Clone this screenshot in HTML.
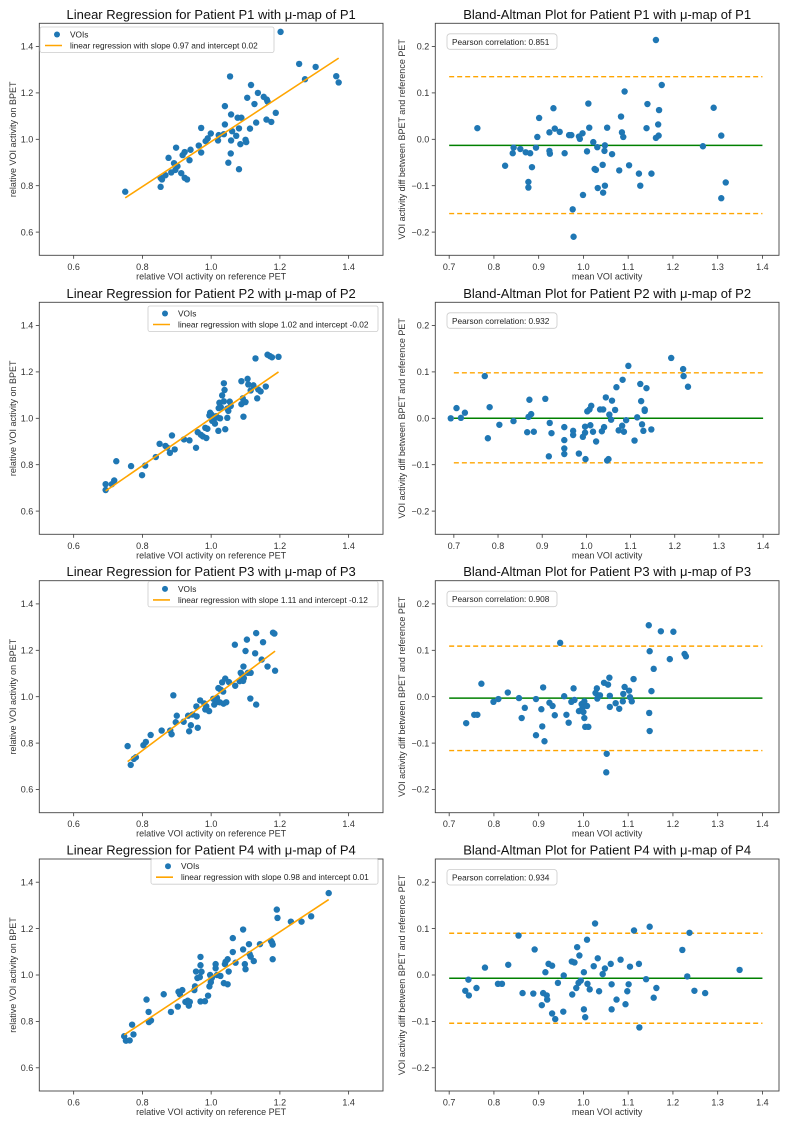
<!DOCTYPE html>
<html><head><meta charset="utf-8"><style>
html,body{margin:0;padding:0;background:#fff;}
svg{display:block;font-family:"Liberation Sans","DejaVu Sans",sans-serif;}
</style></head><body>
<svg id="fig" width="793" height="1126" viewBox="0 0 793 1126" xmlns="http://www.w3.org/2000/svg"></svg>
<script>
// ---------- data ----------
const lr1x=[0.75,0.853,0.853,0.857,0.867,0.876,0.884,0.892,0.896,0.902,0.898,0.913,0.917,0.923,0.923,0.93,0.937,0.94,0.964,0.971,0.971,0.984,0.99,0.999,1.02,1.022,1.037,1.04,1.04,1.057,1.05,1.055,1.058,1.058,1.061,1.073,1.077,1.081,1.081,1.085,1.088,1.1,1.102,1.105,1.113,1.116,1.126,1.131,1.136,1.153,1.162,1.161,1.164,1.175,1.188,1.202,1.256,1.273,1.304,1.364,1.371];
const lr1y=[0.774,0.795,0.834,0.827,0.845,0.92,0.857,0.897,0.868,0.884,0.964,0.854,0.932,0.945,0.834,0.827,0.91,0.955,0.973,0.943,1.049,0.992,1.004,1.025,0.995,1.018,1.022,1.064,1.143,0.939,0.899,1.271,1.107,0.995,1.035,1.015,1.093,1.047,0.871,0.979,1.093,0.998,0.988,1.179,1.046,1.234,1.152,1.072,1.2,1.183,1.171,1.085,1.163,1.075,1.114,1.463,1.325,1.259,1.312,1.272,1.245];
const ba1x=[0.763,0.825,0.842,0.844,0.859,0.871,0.877,0.877,0.881,0.885,0.894,0.897,0.901,0.924,0.924,0.925,0.933,0.936,0.947,0.958,0.968,0.973,0.976,0.978,0.99,0.992,0.998,0.999,1.008,1.011,1.013,1.022,1.025,1.028,1.031,1.032,1.043,1.044,1.047,1.048,1.048,1.053,1.064,1.08,1.084,1.086,1.089,1.092,1.102,1.124,1.127,1.141,1.143,1.152,1.162,1.162,1.167,1.169,1.168,1.175,1.267,1.291,1.308,1.308,1.318];
const ba1y=[0.024,-0.057,-0.03,-0.018,-0.021,-0.028,-0.092,-0.104,-0.03,-0.06,-0.018,0.005,0.046,0.015,-0.025,-0.031,0.067,0.023,0.016,-0.03,0.009,0.009,-0.151,-0.21,0.006,0.001,0.013,-0.12,-0.026,0.077,0.025,-0.006,-0.064,-0.066,-0.017,-0.105,-0.055,-0.115,-0.025,-0.013,-0.1,0.025,-0.032,-0.067,0.049,0.015,0.005,0.103,-0.056,-0.074,-0.1,0.024,0.076,-0.074,0.214,0.003,0.032,0.063,0.008,0.117,-0.015,0.068,0.008,-0.127,-0.093];
const lr2x=[0.693,0.693,0.711,0.718,0.724,0.767,0.799,0.808,0.839,0.85,0.867,0.872,0.88,0.886,0.894,0.921,0.937,0.956,0.961,0.97,0.976,0.983,0.986,0.989,0.995,0.997,1.001,1.003,1.007,1.011,1.015,1.018,1.021,1.022,1.024,1.026,1.028,1.032,1.037,1.037,1.039,1.041,1.047,1.047,1.05,1.054,1.057,1.088,1.088,1.092,1.094,1.095,1.1,1.106,1.108,1.115,1.123,1.129,1.134,1.137,1.144,1.159,1.164,1.171,1.177,1.196];
const lr2y=[0.691,0.716,0.716,0.732,0.815,0.794,0.755,0.796,0.833,0.89,0.881,0.874,0.851,0.926,0.866,0.909,0.905,0.873,0.94,0.929,0.922,0.959,0.915,0.955,1.012,1.024,1.016,0.989,0.991,0.977,1.009,1.004,0.946,1.044,1.067,1.0,1.048,1.099,1.151,1.073,1.122,0.953,1.042,1.002,1.032,1.072,1.053,1.16,1.061,1.086,1.007,1.073,1.07,1.17,1.146,1.12,1.142,1.258,1.086,1.124,1.116,1.137,1.274,1.268,1.263,1.265];
const ba2x=[0.693,0.706,0.716,0.725,0.77,0.777,0.781,0.803,0.835,0.866,0.869,0.871,0.875,0.881,0.907,0.915,0.917,0.921,0.95,0.95,0.95,0.95,0.97,0.97,0.983,0.992,0.997,0.997,0.998,1.002,1.007,1.009,1.011,1.015,1.022,1.031,1.035,1.038,1.04,1.044,1.047,1.05,1.052,1.056,1.058,1.065,1.068,1.073,1.081,1.082,1.085,1.09,1.095,1.109,1.115,1.122,1.124,1.126,1.129,1.132,1.132,1.136,1.147,1.192,1.219,1.22,1.23];
const ba2y=[0,0.022,0.001,0.012,0.091,-0.043,0.024,-0.014,-0.006,-0.03,0.003,0.04,0.009,-0.029,0.042,-0.082,-0.01,-0.032,-0.019,-0.047,-0.065,-0.077,-0.027,-0.036,-0.076,-0.04,-0.031,-0.018,-0.088,0.015,0.019,-0.015,0.027,-0.029,-0.05,0.019,-0.028,0.019,-0.019,0.045,-0.091,-0.088,0.008,-0.003,0.038,0.018,0.067,-0.026,-0.016,0.083,-0.029,-0.004,0.113,-0.048,0.002,0.074,0.037,-0.013,-0.027,0.016,0.019,0.065,-0.024,0.13,0.106,0.091,0.068];
const lr3x=[0.757,0.766,0.775,0.781,0.803,0.81,0.824,0.856,0.881,0.885,0.89,0.897,0.9,0.92,0.933,0.936,0.941,0.946,0.957,0.958,0.961,0.968,0.98,0.983,0.986,0.994,1.006,1.009,1.014,1.017,1.019,1.021,1.025,1.028,1.032,1.035,1.036,1.041,1.044,1.052,1.069,1.07,1.083,1.086,1.091,1.093,1.094,1.095,1.1,1.104,1.107,1.115,1.114,1.128,1.131,1.131,1.147,1.151,1.164,1.18,1.184,1.186];
const lr3y=[0.787,0.706,0.732,0.739,0.791,0.805,0.835,0.854,0.854,0.838,1.006,0.89,0.918,0.892,0.918,0.851,0.877,0.923,0.958,0.915,0.866,0.984,0.971,0.945,0.958,0.938,0.991,0.966,0.979,0.995,0.978,1.037,0.976,1.03,1.062,1.022,0.97,1.078,0.976,1.063,1.224,1.047,1.067,1.103,1.093,1.068,1.13,1.08,1.197,1.246,1.103,1.103,0.992,1.187,1.274,0.966,1.16,1.235,1.13,1.276,1.272,1.112];
const ba3x=[0.738,0.756,0.763,0.772,0.799,0.81,0.831,0.856,0.862,0.869,0.894,0.894,0.906,0.908,0.91,0.913,0.924,0.931,0.936,0.948,0.957,0.962,0.967,0.973,0.978,0.98,0.99,0.996,0.998,1.0,1.002,1.002,1.004,1.008,1.011,1.027,1.03,1.031,1.037,1.046,1.052,1.051,1.055,1.058,1.059,1.059,1.072,1.08,1.088,1.089,1.092,1.102,1.104,1.108,1.112,1.146,1.147,1.148,1.148,1.152,1.157,1.173,1.193,1.201,1.226,1.229];
const ba3y=[-0.057,-0.039,-0.039,0.028,-0.011,-0.005,0.009,-0.003,-0.046,-0.024,-0.083,-0.005,-0.027,-0.064,0.02,-0.096,-0.013,-0.02,-0.04,0.116,0.001,-0.039,-0.056,-0.011,0.018,-0.007,-0.031,-0.016,-0.023,-0.033,-0.046,-0.01,-0.065,-0.02,-0.065,0.008,0.018,-0.004,0.003,0.03,-0.123,-0.163,0.026,0.041,-0.022,0.002,-0.014,-0.026,-0.01,0.006,0.021,0.013,-0.001,-0.01,0.038,0.154,-0.035,0.098,-0.074,0.012,0.06,0.141,0.081,0.14,0.092,0.087];
const lr4x=[0.747,0.752,0.763,0.77,0.774,0.812,0.818,0.819,0.825,0.862,0.883,0.903,0.905,0.909,0.916,0.925,0.932,0.935,0.938,0.951,0.953,0.956,0.96,0.967,0.969,0.969,0.969,0.972,0.982,0.991,0.995,0.997,0.999,1.002,1.013,1.013,1.017,1.027,1.037,1.04,1.042,1.048,1.048,1.051,1.063,1.063,1.071,1.093,1.093,1.098,1.1,1.11,1.112,1.115,1.124,1.142,1.174,1.177,1.179,1.179,1.191,1.193,1.232,1.263,1.291,1.342];
const lr4y=[0.736,0.717,0.718,0.786,0.744,0.894,0.841,0.797,0.804,0.917,0.841,0.864,0.928,0.917,0.935,0.884,0.889,0.868,0.884,0.935,0.951,1.015,0.987,0.991,1.078,1.042,0.886,1.014,0.887,0.911,0.951,1.0,0.969,0.987,1.047,1.029,1.0,0.996,0.965,1.047,1.057,0.96,1.068,1.015,1.159,1.099,1.053,1.196,1.11,1.047,1.025,1.133,1.09,1.079,1.06,1.133,1.147,1.14,1.131,1.068,1.282,1.246,1.23,1.23,1.253,1.353];
const ba4x=[0.736,0.743,0.744,0.761,0.78,0.809,0.818,0.832,0.855,0.864,0.888,0.891,0.907,0.91,0.915,0.918,0.919,0.922,0.93,0.93,0.937,0.943,0.955,0.956,0.974,0.975,0.98,0.984,0.986,0.989,0.991,0.994,1.001,1.001,1.004,1.008,1.009,1.014,1.023,1.026,1.032,1.035,1.043,1.048,1.061,1.063,1.063,1.074,1.083,1.094,1.098,1.101,1.104,1.113,1.124,1.125,1.14,1.148,1.157,1.163,1.221,1.232,1.237,1.248,1.272,1.349];
const ba4y=[-0.034,-0.01,-0.044,-0.028,0.016,-0.019,-0.019,0.022,0.085,-0.039,-0.04,0.055,-0.065,-0.039,0.006,-0.044,-0.053,0.024,0.02,-0.083,-0.095,-0.017,-0.079,-0.001,0.029,-0.042,0.027,-0.028,0.06,-0.017,0.042,-0.012,-0.074,0.006,-0.091,0.076,-0.019,-0.031,0.019,0.111,0.036,-0.035,0.002,0.014,0.024,-0.074,-0.02,-0.053,0.033,-0.063,-0.035,-0.02,0.018,0.096,0.024,-0.113,-0.009,0.104,-0.049,-0.028,0.054,-0.003,0.091,-0.034,-0.039,0.011];
const lrSlopes=[0.97,1.02,1.11,0.98];
const lrIntercepts=[0.02,-0.02,-0.12,0.01];
const baMeans=[-0.013,0.0,-0.003,-0.007];
const baUpper=[0.135,0.098,0.109,0.09];
const baLower=[-0.16,-0.096,-0.116,-0.104];
const pearson=["0.851","0.932","0.908","0.934"];
const lrTicks=[0.6,0.8,1.0,1.2,1.4];
const baXTicks=[0.7,0.8,0.9,1.0,1.1,1.2,1.3,1.4];
const baYTicks=[-0.2,-0.1,0.0,0.1,0.2];

// ---------- drawing ----------
const NS="http://www.w3.org/2000/svg";
const svg=document.getElementById('fig');
function mk(tag,attrs,parent){const e=document.createElementNS(NS,tag);for(const k in attrs)e.setAttribute(k,attrs[k]);(parent||svg).appendChild(e);return e;}
const rowTops=[23.3,302.3,580.7,859];
const H=232;
const BLUE="#1f77b4",ORANGE="#ffa500",GREEN="#008000";
const lrX=[[0.5,1.5],[0.5,1.5],[0.5,1.5],[0.5,1.5]];
const baXD=[[0.669,1.437],[0.658,1.436],[0.669,1.437],[0.669,1.437]];
const lrData=[[lr1x,lr1y],[lr2x,lr2y],[lr3x,lr3y],[lr4x,lr4y]];
const baData=[[ba1x,ba1y],[ba2x,ba2y],[ba3x,ba3y],[ba4x,ba4y]];
const legendX=[40,148,148,151];
const legendY=[27,27,24,23];

function axes(g,x0,x1,y0,y1,xd,yd,xticks,yticks,xfmt,yfmt){
  const sx=v=>x0+(v-xd[0])/(xd[1]-xd[0])*(x1-x0);
  const sy=v=>y1-(v-yd[0])/(yd[1]-yd[0])*(y1-y0);
  xticks.forEach(t=>{
    const X=sx(t);
    const tk=mk('line',{x1:X,x2:X,y1:y1,y2:y1+3.5,stroke:'#333','stroke-width':0.8},g);
    
    
    const tl=mk('text',{x:X,y:y1+14.5,'font-size':9,'text-anchor':'middle',fill:'#333'},g);
    
    
    tl.textContent=xfmt(t);
  });
  yticks.forEach(t=>{
    const Y=sy(t);
    const tk=mk('line',{x1:x0-3.5,x2:x0,y1:Y,y2:Y,stroke:'#333','stroke-width':0.8},g);
    
    
    const tl=mk('text',{x:x0-6,y:Y+3.2,'font-size':9,'text-anchor':'end',fill:'#333'},g);
    
    
    tl.textContent=yfmt(t);
  });
  return [sx,sy];
}
function frame(g,x0,x1,y0,y1){
  const r=mk('rect',{x:x0,y:y0,width:x1-x0,height:y1-y0,fill:'none',stroke:'#444','stroke-width':0.9},g);
  
  
}
function dots(g,xs,ys,sx,sy){
  const n=Math.min(xs.length,ys.length);
  for(let i=0;i<n;i++){
    const c=mk('circle',{cx:sx(xs[i]),cy:sy(ys[i]),r:3.2,fill:BLUE},g);
    
    
  }
}
function fmtU(v){return v<0?'\u2212'+Math.abs(v).toFixed(1):v.toFixed(1);}

for(let p=0;p<4;p++){
  const y0=rowTops[p],y1=y0+H;
  // ---- linear regression panel ----
  const g=mk('g',{});
  
  
  const x0=39.3,x1=383;
  const [sx,sy]=axes(g,x0,x1,y0,y1,lrX[p],[0.5,1.5],lrTicks,lrTicks,v=>v.toFixed(1),v=>v.toFixed(1));
  const [xs,ys]=lrData[p];
  const xmin=Math.min(...xs),xmax=Math.max(...xs);
  dots(g,xs,ys,sx,sy);
  const ln=mk('line',{x1:sx(xmin),y1:sy(lrSlopes[p]*xmin+lrIntercepts[p]),x2:sx(xmax),y2:sy(lrSlopes[p]*xmax+lrIntercepts[p]),stroke:ORANGE,'stroke-width':1.6},g);
  
  
  frame(g,x0,x1,y0,y1);
  const t=mk('text',{x:(x0+x1)/2,y:y0-4.5,'font-size':13,'text-anchor':'middle',fill:'#111'},g);
  
  
  t.textContent='Linear Regression for Patient P'+(p+1)+' with \u03bc-map of P'+(p+1);
  const xl=mk('text',{x:(x0+x1)/2,y:y1+24,'font-size':9,'text-anchor':'middle',fill:'#333'},g);
  
  
  xl.textContent='relative VOI activity on reference PET';
  const yl=mk('text',{x:0,y:0,'font-size':9,'text-anchor':'middle',fill:'#333',transform:'translate(16,'+((y0+y1)/2)+') rotate(-90)'},g);
  
  
  yl.textContent='relative VOI activity on BPET';
  // legend
  const lx=legendX[p],ly=y0+(legendY[p]-23.3);
  const lg=mk('g',{},g);
  
  
  const lb=mk('rect',{x:lx,y:ly,width:(p==0)?234:(380-lx-2),height:25.5,rx:2,fill:'#fff','fill-opacity':0.85,stroke:'#ccc','stroke-width':0.8},lg);
  
  
  const lm=mk('circle',{cx:lx+17,cy:ly+7.5,r:3,fill:BLUE},lg);
  
  
  const lt1=mk('text',{x:lx+30,y:ly+10.5,'font-size':8.3,fill:'#222'},lg);
  
  
  lt1.textContent='VOIs';
  const ll=mk('line',{x1:lx+5,x2:lx+22,y1:ly+18.5,y2:ly+18.5,stroke:ORANGE,'stroke-width':1.6},lg);
  
  
  const lt2=mk('text',{x:lx+30,y:ly+21.5,'font-size':8.3,fill:'#222'},lg);
  
  
  lt2.textContent='linear regression with slope '+lrSlopes[p].toFixed(2)+' and intercept '+lrIntercepts[p].toFixed(2);

  // ---- Bland-Altman panel ----
  const h=mk('g',{});
  
  
  const bx0=435.3,bx1=779;
  const [bsx,bsy]=axes(h,bx0,bx1,y0,y1,baXD[p],[-0.25,0.25],baXTicks,baYTicks,v=>v.toFixed(1),fmtU);
  const [bxs,bys]=baData[p];
  const lx0=0.7,lx1=1.4;
  [baUpper[p],baLower[p]].forEach((v,i)=>{
    const d=mk('line',{x1:bsx(lx0),x2:bsx(lx1),y1:bsy(v),y2:bsy(v),stroke:ORANGE,'stroke-width':1.4,'stroke-dasharray':'5,3'},h);
    
    
  });
  const m=mk('line',{x1:bsx(lx0),x2:bsx(lx1),y1:bsy(baMeans[p]),y2:bsy(baMeans[p]),stroke:GREEN,'stroke-width':1.5},h);
  
  
  dots(h,bxs,bys,bsx,bsy);
  frame(h,bx0,bx1,y0,y1);
  const bt=mk('text',{x:(bx0+bx1)/2,y:y0-4.5,'font-size':13,'text-anchor':'middle',fill:'#111'},h);
  
  
  bt.textContent='Bland-Altman Plot for Patient P'+(p+1)+' with \u03bc-map of P'+(p+1);
  const bxl=mk('text',{x:(bx0+bx1)/2,y:y1+24,'font-size':9,'text-anchor':'middle',fill:'#333'},h);
  
  
  bxl.textContent='mean VOI activity';
  const byl=mk('text',{x:0,y:0,'font-size':9,'text-anchor':'middle',fill:'#333',transform:'translate(405,'+((y0+y1)/2)+') rotate(-90)'},h);
  
  
  byl.textContent='VOI activity diff between BPET and reference PET';
  const pb=mk('rect',{x:447,y:y0+10.5,width:110,height:15.5,rx:3,fill:'#fff',stroke:'#ccc','stroke-width':0.8},h);
  
  
  const pt=mk('text',{x:452,y:y0+21.5,'font-size':8.3,fill:'#222'},h);
  
  
  pt.textContent='Pearson correlation: '+pearson[p];
}
</script>
</body></html>
